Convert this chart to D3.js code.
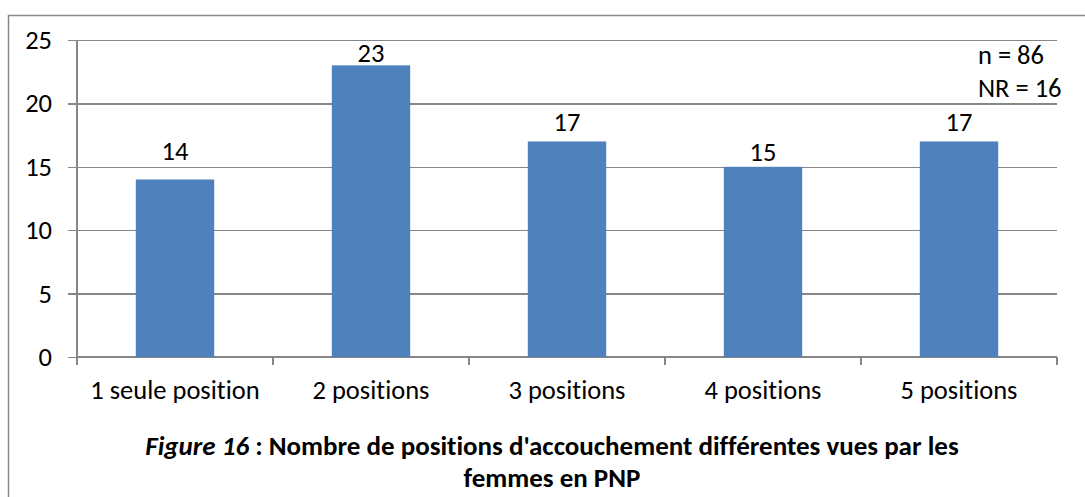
<!DOCTYPE html>
<html>
<head>
<meta charset="utf-8">
<script src="https://cdn.jsdelivr.net/npm/d3@7"></script>
<style>
  html, body { margin: 0; padding: 0; background: #fff; }
  svg { display: block; }
  text { font-family: Carlito, Lato, "Open Sans", sans-serif; fill: #000;
         font-variant-ligatures: none; font-feature-settings: "liga" 0, "clig" 0; }
</style>
</head>
<body>
<svg id="chart" width="1085" height="497"></svg>
<script>
// ---- data ----
const categories = ["1 seule position", "2 positions", "3 positions", "4 positions", "5 positions"];
const values = [14, 23, 17, 15, 17];
const yTicks = [0, 5, 10, 15, 20, 25];
const notes = ["n = 86", "NR = 16"];
const titleItalic = "Figure 16";
const titleLine1 = " : Nombre de positions d'accouchement différentes vues par les";
const titleLine2 = "femmes en PNP";

// ---- layout ----
const plot = { left: 77, right: 1057, top: 40, bottom: 357 };
const gridColor = "#868686";
const barColor = "#4F81BD";
const fs = "26.5px";
const labelGap = [19, 3, 10, 6, 10]; // px between bar top and label baseline

const svg = d3.select("#chart");

// outer chart border (extends beyond the captured area on right/bottom)
svg.append("rect")
  .attr("x", 8.5).attr("y", 15.5)
  .attr("width", 1200).attr("height", 600)
  .attr("fill", "none").attr("stroke", gridColor).attr("stroke-width", 1.5);

const x = d3.scaleBand()
  .domain(categories)
  .range([plot.left, plot.right])
  .paddingInner(0.6)
  .paddingOuter(0.3);

const y = d3.scaleLinear()
  .domain([0, 25])
  .range([plot.bottom, plot.top]);

// gridlines + y ticks
const yAxis = d3.axisLeft(y)
  .tickValues(yTicks)
  .tickSize(-(plot.right - plot.left))
  .tickPadding(25)
  .tickFormat(d3.format("d"));

const gy = svg.append("g")
  .attr("transform", `translate(${plot.left},0)`)
  .call(yAxis);
gy.select(".domain").remove();
gy.selectAll(".tick line")
  .attr("x1", -9)
  .attr("stroke", gridColor)
  .attr("stroke-width", 1.5)
  .attr("shape-rendering", "crispEdges");
gy.selectAll(".tick text")
  .style("font-size", fs)
  .attr("fill", "#000");

// y axis line
svg.append("line")
  .attr("x1", plot.left).attr("x2", plot.left)
  .attr("y1", plot.top).attr("y2", plot.bottom)
  .attr("stroke", gridColor).attr("stroke-width", 1.5)
  .attr("shape-rendering", "crispEdges");

// x axis
svg.append("line")
  .attr("x1", plot.left).attr("x2", plot.right)
  .attr("y1", plot.bottom).attr("y2", plot.bottom)
  .attr("stroke", gridColor).attr("stroke-width", 1.5)
  .attr("shape-rendering", "crispEdges");

const boundaries = categories.map(c => x(c) - (x.step() - x.bandwidth()) / 2);
boundaries.push(plot.right);
svg.append("g").selectAll("line")
  .data(boundaries)
  .join("line")
  .attr("x1", d => d).attr("x2", d => d)
  .attr("y1", plot.bottom).attr("y2", plot.bottom + 8)
  .attr("stroke", gridColor).attr("stroke-width", 1.5)
  .attr("shape-rendering", "crispEdges");

// category labels
svg.append("g").selectAll("text")
  .data(categories)
  .join("text")
  .attr("x", d => x(d) + x.bandwidth() / 2)
  .attr("y", 399)
  .attr("text-anchor", "middle")
  .style("font-size", fs)
  .text(d => d);

// bars
svg.append("g").selectAll("rect")
  .data(values)
  .join("rect")
  .attr("x", (d, i) => x(categories[i]))
  .attr("y", d => y(d))
  .attr("width", x.bandwidth())
  .attr("height", d => y(0) - y(d))
  .attr("fill", barColor);

// value labels
svg.append("g").selectAll("text")
  .data(values)
  .join("text")
  .attr("x", (d, i) => x(categories[i]) + x.bandwidth() / 2)
  .attr("y", (d, i) => y(d) - labelGap[i])
  .attr("text-anchor", "middle")
  .style("font-size", fs)
  .text(d => d);

// notes
svg.append("g").selectAll("text")
  .data(notes)
  .join("text")
  .attr("x", 978)
  .attr("y", (d, i) => 64 + i * 33)
  .style("font-size", fs)
  .text(d => d);

// title
const t1 = svg.append("text")
  .attr("x", 552).attr("y", 455)
  .attr("text-anchor", "middle")
  .style("font-size", "27px")
  .style("font-weight", "bold");
t1.append("tspan").style("font-style", "italic").text(titleItalic);
t1.append("tspan").text(titleLine1);

svg.append("text")
  .attr("x", 552).attr("y", 487)
  .attr("text-anchor", "middle")
  .style("font-size", "27px")
  .style("font-weight", "bold")
  .text(titleLine2);
</script>
</body>
</html>
